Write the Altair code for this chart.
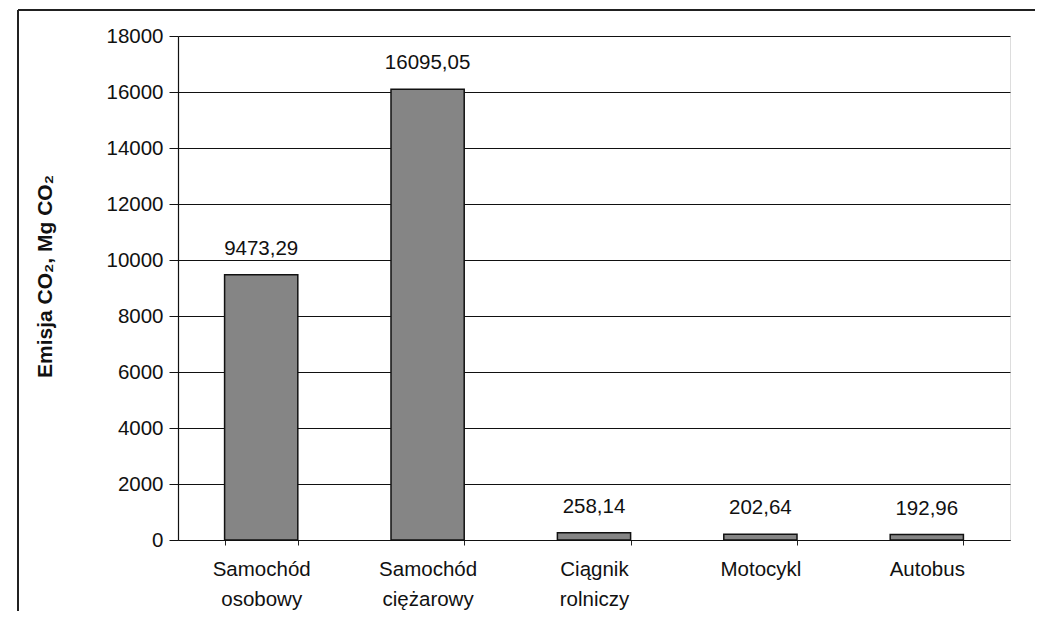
import altair as alt
import pandas as pd

categories = ["Samochód osobowy", "Samochód ciężarowy", "Ciągnik rolniczy", "Motocykl", "Autobus"]
values = [9473.29, 16095.05, 258.14, 202.64, 192.96]
y_ticks = [0, 2000, 4000, 6000, 8000, 10000, 12000, 14000, 16000, 18000]

labels = [f"{v:.2f}".replace(".", ",") for v in values]
df = pd.DataFrame({"kat": categories, "val": values, "lab": labels})

FONT = "Liberation Sans"
FS = 20.5
W, H = 832, 504

x_enc = alt.X(
    "kat:N", sort=categories, title=None,
    scale=alt.Scale(paddingInner=0.56, paddingOuter=0.28),
    axis=alt.Axis(
        labelAngle=0, labelFont=FONT, labelFontSize=FS, labelColor="#111",
        labelLineHeight=30, labelPadding=14, labelBaseline="top",
        labelExpr="split(datum.label, ' ')",
        tickBand="extent", tickSize=5, tickColor="#222", domainColor="#111",
        domainWidth=1.2, grid=False,
    ),
)

bars = alt.Chart(df).mark_bar(
    color="#858585", stroke="#111", strokeWidth=1.5
).encode(
    x=x_enc,
    y=alt.Y(
        "val:Q", title="Emisja CO₂, Mg CO₂",
        scale=alt.Scale(domain=[0, 18000], nice=False),
        axis=alt.Axis(
            values=y_ticks, format="d", labelFont=FONT, labelFontSize=FS,
            labelColor="#111", labelPadding=6, tickSize=9, tickColor="#111",
            domainColor="#111", domainWidth=1.2, gridColor="#111",
            gridWidth=1.1, gridOpacity=1,
            titleFont=FONT, titleFontSize=21, titleFontWeight="bold",
            titleColor="#111", titleX=-133, titleY=240, titleAngle=-90,
            titleAlign="center", titleBaseline="middle",
        ),
    ),
)

text = alt.Chart(df).mark_text(
    dy=-16, font=FONT, fontSize=FS, color="#111", baseline="bottom"
).encode(
    x=alt.X("kat:N", sort=categories),
    y="val:Q",
    text="lab:N",
)

frame_left = alt.Chart(df).mark_rule(color="#222", strokeWidth=1.5).encode(
    x=alt.value(-160), y=alt.value(-26), y2=alt.value(700)
)
frame_top = alt.Chart(df).mark_rule(color="#222", strokeWidth=1.5).encode(
    x=alt.value(-160), x2=alt.value(900), y=alt.value(-26)
)

chart = alt.layer(bars, text, frame_left, frame_top).properties(
    width=W, height=H,
    autosize=alt.AutoSizeParams(type="none"),
    padding={"left": 170, "top": 28, "right": 25, "bottom": 71},
).configure_view(stroke=None).configure(background="white")

chart.save("out.html", embed_options={"renderer": "svg", "actions": False})
